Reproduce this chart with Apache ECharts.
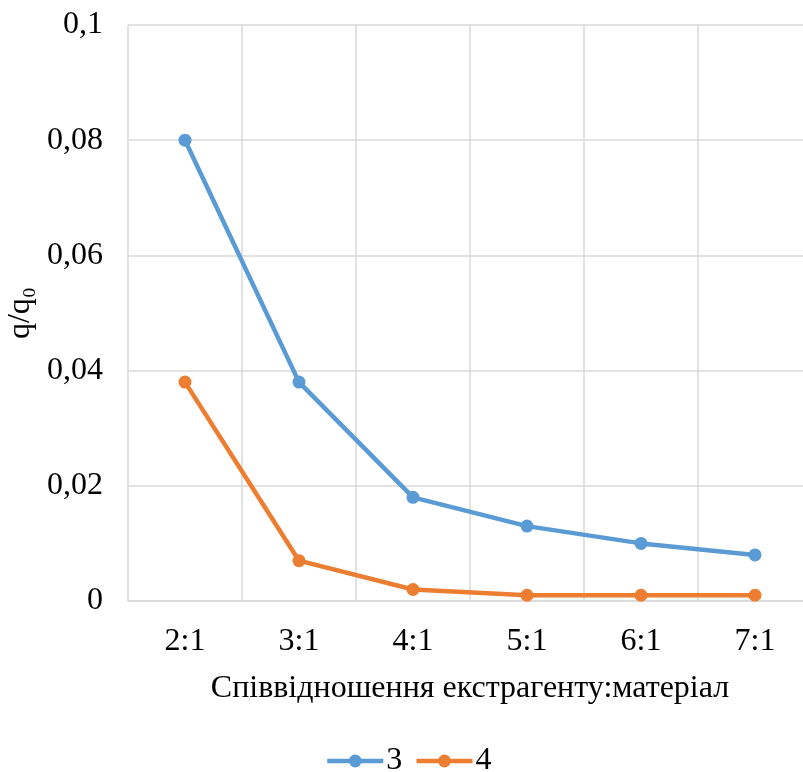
<!DOCTYPE html>
<html><head><meta charset="utf-8">
<script src="https://cdn.jsdelivr.net/npm/echarts@6/dist/echarts.min.js"></script>
<style>html,body{margin:0;padding:0;background:#fff}#c{width:803px;height:772px}</style>
</head><body><div id="c"></div>
<script>
const categories = ['2:1','3:1','4:1','5:1','6:1','7:1'];
const series3 = [0.080, 0.038, 0.018, 0.013, 0.010, 0.008];
const series4 = [0.038, 0.007, 0.002, 0.001, 0.001, 0.001];
const seriesNames = ['3','4'];
const xTitle = 'Співвідношення екстрагенту:матеріал';
const yTitle = 'q/q₀';
const FONT = '"Liberation Serif", "Times New Roman", serif';
const chart = echarts.init(document.getElementById('c'));
chart.setOption({
  animation: false,
  textStyle: {fontFamily: FONT},
  grid: {left: 128, width: 684, top: 25, height: 576, containLabel: false, outerBoundsMode: 'none'},
  legend: {
    top: 740, left: 320, itemWidth: 56, itemHeight: 16, itemGap: 12,
    lineStyle: {width: 4.5},
    textStyle: {fontFamily: FONT, fontSize: 32, color: '#000', padding: [0,0,0,-2]},
    data: seriesNames
  },
  xAxis: {
    type: 'category', data: categories, boundaryGap: true,
    name: xTitle, nameLocation: 'middle', nameGap: 72,
    nameTextStyle: {fontFamily: FONT, fontSize: 32, color: '#000'},
    axisLine: {show: true, lineStyle: {color: '#d9d9d9', width: 1.5}},
    axisTick: {show: false},
    axisLabel: {fontFamily: FONT, fontSize: 32, color: '#000', margin: 25},
    splitLine: {show: true, lineStyle: {color: '#d9d9d9', width: 1.5}}
  },
  yAxis: {
    type: 'value', min: 0, max: 0.1, interval: 0.02,
    name: yTitle, nameLocation: 'middle', nameGap: 90, nameRotate: 90,
    nameTextStyle: {fontFamily: FONT, fontSize: 32, color: '#000'},
    axisLine: {show: false}, axisTick: {show: false},
    axisLabel: {fontFamily: FONT, fontSize: 32, color: '#000', margin: 25,
      formatter: v => (Math.round(v*100)/100).toString().replace('.', ',')},
    splitLine: {show: true, lineStyle: {color: '#d9d9d9', width: 1.5}}
  },
  series: [
    {name: seriesNames[0], type: 'line', data: series3, symbol: 'circle', symbolSize: 13,
     lineStyle: {color: '#5B9BD5', width: 4.5}, itemStyle: {color: '#5B9BD5'}},
    {name: seriesNames[1], type: 'line', data: series4, symbol: 'circle', symbolSize: 13,
     lineStyle: {color: '#ED7D31', width: 4.5}, itemStyle: {color: '#ED7D31'}}
  ]
});
</script></body></html>
